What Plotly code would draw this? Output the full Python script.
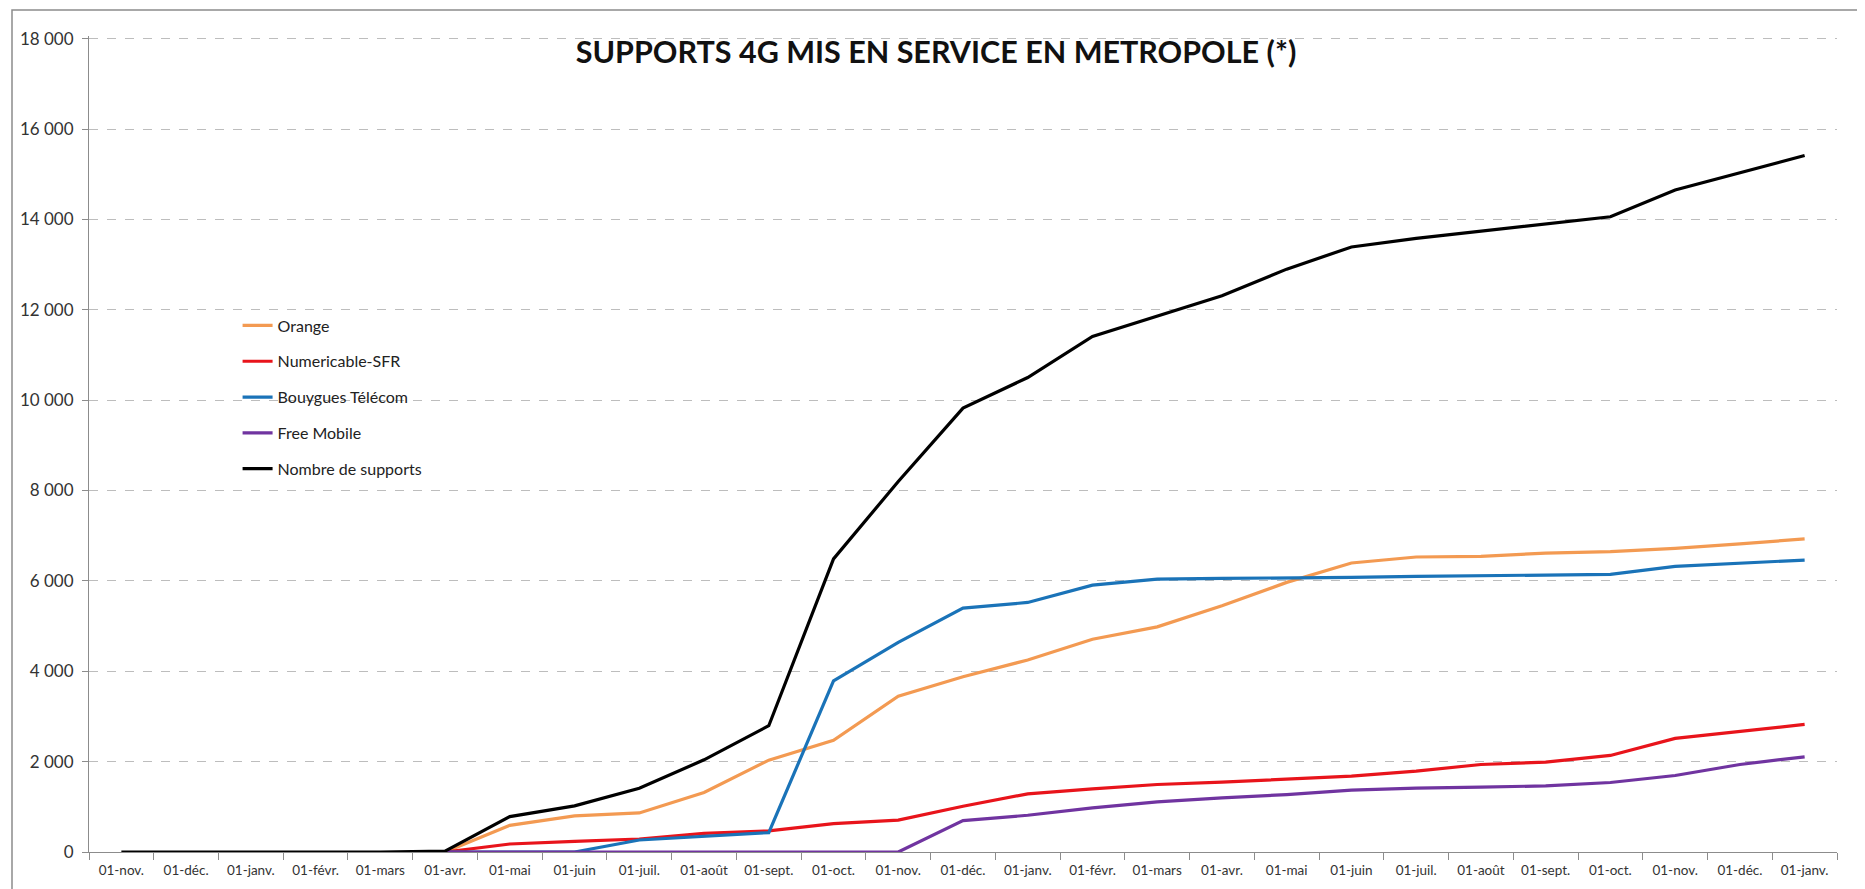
import plotly.graph_objects as go

months = ["01-nov.", "01-déc.", "01-janv.", "01-févr.", "01-mars", "01-avr.", "01-mai", "01-juin",
          "01-juil.", "01-août", "01-sept.", "01-oct.", "01-nov.", "01-déc.", "01-janv.", "01-févr.",
          "01-mars", "01-avr.", "01-mai", "01-juin", "01-juil.", "01-août", "01-sept.", "01-oct.",
          "01-nov.", "01-déc.", "01-janv."]

orange = [None, None, None, None, None, 0, 591, 798, 865, 1316, 2033, 2470, 3450, 3880, 4250,
          4710, 4983, 5449, 5967, 6396, 6529, 6543, 6617, 6647, 6720, 6820, 6930]
sfr = [None, None, None, None, None, 0, 177, 237, 288, 414, 466, 628, 706, 1013, 1287,
       1397, 1494, 1545, 1619, 1678, 1789, 1937, 1989, 2137, 2514, 2677, 2824]
bouygues = [None, None, None, None, None, 0, 0, 0, 266, 355, 429, 3786, 4640, 5397, 5523,
            5907, 6041, 6055, 6063, 6078, 6100, 6115, 6129, 6144, 6322, 6396, 6462]
free = [None, None, None, None, None, 0, 0, 0, 0, 0, 0, 0, 0, 695, 813,
        976, 1109, 1198, 1272, 1368, 1412, 1434, 1464, 1538, 1693, 1937, 2107]
total = [0, 0, 0, 0, 0, 20, 784, 1020, 1412, 2040, 2795, 6487, 8200, 9823, 10502,
         11410, 11852, 12310, 12900, 13390, 13580, 13740, 13900, 14060, 14650, 15030, 15415]

series = [
    ("Orange", orange, "#F39A52"),
    ("Numericable-SFR", sfr, "#E8141B"),
    ("Bouygues Télécom", bouygues, "#1A73B8"),
    ("Free Mobile", free, "#7034A0"),
    ("Nombre de supports", total, "#000000"),
]

x = list(range(len(months)))

fig = go.Figure()
for name, vals, color in series:
    fig.add_trace(go.Scatter(
        x=x, y=vals, name=name, mode="lines", legendgroup=name,
        line=dict(color=color, width=3.2), connectgaps=False,
    ))

OFF = 8  # page body margin offset
W, H = 1865 - OFF, 889 - OFF
L, R, T, B = 81, 28, 28, 37
PW, PH = W - L - R, H - T - B
YMAX = 18060

fig.update_layout(
    width=W, height=H,
    margin=dict(l=L, r=R, t=T, b=B),
    paper_bgcolor="white", plot_bgcolor="white",
    separators=", ",
    font=dict(family="Lato, Open Sans, sans-serif", color="#333333"),
    title=dict(
        text="<b>SUPPORTS 4G MIS EN SERVICE EN METROPOLE (*)</b>",
        x=(936 - OFF) / W, xanchor="center", xref="container",
        y=1 - (52 - OFF) / H, yanchor="middle", yref="container",
        font=dict(size=30.5, color="#111111", family="Lato, Open Sans, sans-serif"),
    ),
    showlegend=True,
    legend=dict(
        x=0.085, y=0.666, xanchor="left", yanchor="top",
        bgcolor="rgba(0,0,0,0)", borderwidth=0,
        font=dict(size=16, color="#222222"),
        traceorder="grouped", tracegroupgap=12,
        itemwidth=30,
    ),
    xaxis=dict(
        range=[-0.5, len(months) - 0.5],
        tickmode="array", tickvals=x, ticktext=months,
        ticks="", showgrid=False, zeroline=False,
        showline=True, linecolor="#8C8C8C", linewidth=1,
        ticklabelstandoff=6,
        tickfont=dict(size=13.5, color="#333333", family="Lato, Open Sans, sans-serif"),
        minor=dict(ticks="outside", tick0=-0.5, dtick=1, ticklen=7, tickcolor="#8C8C8C", showgrid=False),
    ),
    yaxis=dict(
        range=[0, YMAX], tickvals=list(range(0, 18001, 2000)), tickformat=",d",
        showgrid=True, gridcolor="#BDBDBD", griddash="dash", gridwidth=1,
        zeroline=False,
        showline=True, linecolor="#8C8C8C", linewidth=1,
        ticks="outside", ticklen=6, tickcolor="#8C8C8C",
        ticklabelstandoff=5,
        tickfont=dict(size=17, color="#333333", family="Lato, Open Sans, sans-serif"),
    ),
)

# outer chart frame (page pixels 12..1863 x, from 10 down)
fig.add_shape(
    type="rect", xref="paper", yref="paper",
    x0=(12 - OFF - L) / PW, x1=(1863 - OFF - L) / PW,
    y0=-(B + 20) / PH, y1=1 + (T - (10 - OFF)) / PH,
    line=dict(color="#8C8C8C", width=1.5), layer="below",
)

fig.write_html("out.html")
